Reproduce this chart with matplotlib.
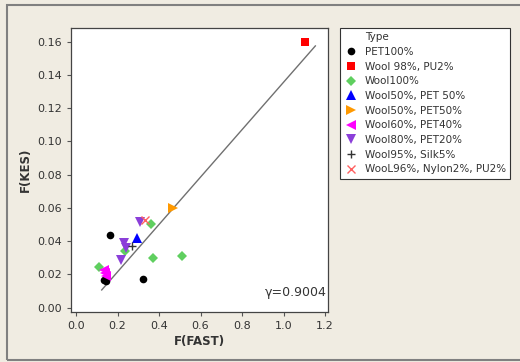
import numpy as np
import matplotlib.pyplot as plt
from matplotlib.patches import Rectangle
from matplotlib.lines import Line2D

# data
pet100_x = [0.165, 0.135, 0.145, 0.321]
pet100_y = [0.044, 0.0165, 0.0158, 0.0170]
wool98_x = [1.105]
wool98_y = [0.1597]
wool100_x = [0.112, 0.235, 0.361, 0.371, 0.509]
wool100_y = [0.0247, 0.0343, 0.0502, 0.0297, 0.0309]
wool50a_x = [0.292]
wool50a_y = [0.0419]
wool50b_x = [0.469]
wool50b_y = [0.0598]
wool60_x = [0.133, 0.140, 0.145]
wool60_y = [0.0228, 0.0210, 0.0193]
wool80_x = [0.217, 0.230, 0.240, 0.310]
wool80_y = [0.0287, 0.0392, 0.0362, 0.0516]
wool95_x = [0.268]
wool95_y = [0.0373]
wool96_x = [0.334]
wool96_y = [0.0528]

fit_x = [0.124, 1.153]
slope = 0.1426
intercept = -0.0070

series = [
    ('PET100%', pet100_x, pet100_y, 'o', 'black'),
    ('Wool 98%, PU2%', wool98_x, wool98_y, 's', '#ff0000'),
    ('Wool100%', wool100_x, wool100_y, 'D', '#5fcf5f'),
    ('Wool50%, PET 50%', wool50a_x, wool50a_y, '^', '#0000ff'),
    ('Wool50%, PET50%', wool50b_x, wool50b_y, '>', '#ff9900'),
    ('Wool60%, PET40%', wool60_x, wool60_y, '<', '#ff00ff'),
    ('Wool80%, PET20%', wool80_x, wool80_y, 'v', '#8b3fd9'),
    ('Wool95%, Silk5%', wool95_x, wool95_y, '+', '#333333'),
    ('WooL96%, Nylon2%, PU2%', wool96_x, wool96_y, 'x', '#ff6060'),
]
sizes = {'o': 5.5, 's': 5.5, 'D': 5.0, '^': 6.5, '>': 6.5, '<': 6.5, 'v': 6.5, '+': 6, 'x': 6}

txt = '#333333'
fig = plt.figure(figsize=(5.2, 3.62), dpi=100, facecolor='#f0ece2')
fig.patches.append(Rectangle((7 / 520, 1 - 360 / 362), 1, 355 / 362, transform=fig.transFigure,
                             fill=False, edgecolor='#808080', linewidth=1.5))

ax = fig.add_axes([71 / 520, 1 - 311.7 / 362, 257 / 520, 283.7 / 362])
ax.set_facecolor('white')

fx = np.array(fit_x)
ax.plot(fx, slope * fx + intercept, color='#707070', linewidth=1.0, zorder=1)

handles = [Line2D([], [], linestyle='none', marker=None, label='Type')]
for name, xs, ys, m, c in series:
    ew = 1.0 if m in ('+', 'x') else 0
    ax.plot(xs, ys, m, color=c, markersize=sizes[m], markeredgewidth=ew, zorder=3)
    handles.append(Line2D([], [], linestyle='none', marker=m, color=c,
                          markersize=sizes[m], markeredgewidth=ew, label=name))

ax.set_xlim(-0.024, 1.214)
ax.set_ylim(-0.0024, 0.1682)
ax.set_xticks(np.arange(0, 1.21, 0.2))
ax.set_xticklabels(['0.0', '0.2', '0.4', '0.6', '0.8', '1.0', '1.2'])
ax.set_yticks(np.arange(0, 0.161, 0.02))
ax.set_yticklabels(['%.2f' % v for v in np.arange(0, 0.161, 0.02)])
ax.tick_params(direction='out', length=3, width=0.8, colors='#555555', labelcolor=txt, labelsize=8)
for s in ax.spines.values():
    s.set_color('#444444')
    s.set_linewidth(0.9)

ax.set_xlabel('F(FAST)', fontsize=8.5, fontweight='bold', color=txt, labelpad=3)
ax.set_ylabel('F(KES)', fontsize=8.5, fontweight='bold', color=txt, labelpad=4)
ax.text(0.995, 0.045, 'γ=0.9004', transform=ax.transAxes, ha='right', va='bottom',
        fontsize=9, color=txt)

leg = fig.legend(handles=handles, loc='upper left', bbox_to_anchor=(340 / 520, 1 - 28 / 362),
                 fontsize=7.5, frameon=True, fancybox=False, framealpha=1,
                 handletextpad=0.6, handlelength=1.4, borderpad=0.4, labelspacing=0.45,
                 borderaxespad=0)
leg.get_frame().set_edgecolor('#333333')
leg.get_frame().set_linewidth(0.8)
for t in leg.get_texts():
    t.set_color(txt)

fig.savefig('out.png', dpi=100, facecolor=fig.get_facecolor())
